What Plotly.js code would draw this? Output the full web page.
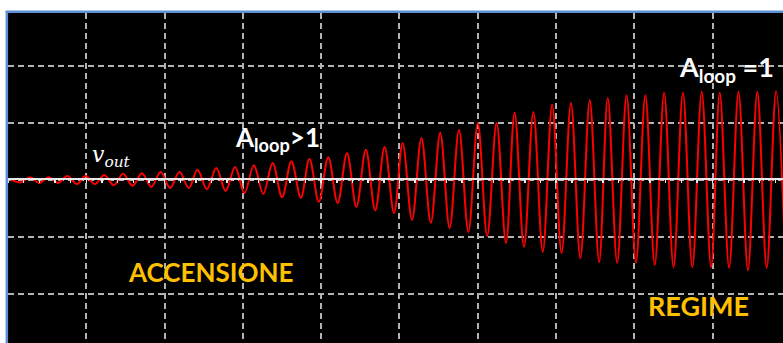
<!DOCTYPE html>
<html>
<head>
<meta charset="utf-8">
<script src="https://cdn.plot.ly/plotly-3.0.1.min.js"></script>
<style>
  html, body { margin: 0; padding: 0; background: #ffffff; }
  #chart { width: 783px; height: 343px; }
</style>
</head>
<body>
<div id="chart"></div>
<script>
// Time of each extremum (in screen divisions) and its value (in vertical divisions)
const startT = [0.02, 0.16];
const startV = [0.01, -0.05];

const peakT = [0.28, 0.52, 0.76, 0.99, 1.23, 1.47, 1.71, 1.95, 2.19, 2.42,
               2.66, 2.90, 3.14, 3.38, 3.62, 3.85, 4.09, 4.33, 4.57, 4.81,
               5.04, 5.28, 5.52, 5.76, 6.00, 6.24, 6.47, 6.71, 6.95, 7.19,
               7.43, 7.66, 7.90, 8.14, 8.38, 8.62, 8.86, 9.09, 9.33, 9.57, 9.81];
const peakV = [0.04, 0.04, 0.06, 0.06, 0.08, 0.10, 0.11, 0.13, 0.13, 0.17,
               0.20, 0.22, 0.25, 0.29, 0.32, 0.36, 0.39, 0.46, 0.52, 0.57,
               0.64, 0.73, 0.82, 0.87, 0.99, 0.99, 1.17, 1.18, 1.31, 1.34,
               1.39, 1.43, 1.48, 1.48, 1.52, 1.52, 1.54, 1.52, 1.54, 1.54, 1.55];

const troughT = [0.40, 0.64, 0.88, 1.11, 1.35, 1.59, 1.83, 2.07, 2.31, 2.54,
                 2.78, 3.02, 3.26, 3.50, 3.74, 3.97, 4.21, 4.45, 4.69, 4.93,
                 5.16, 5.40, 5.64, 5.88, 6.12, 6.36, 6.59, 6.83, 7.07, 7.31,
                 7.55, 7.78, 8.02, 8.26, 8.50, 8.74, 8.98, 9.21, 9.45, 9.69, 9.93];
const troughV = [-0.06, -0.06, -0.08, -0.08, -0.10, -0.11, -0.13, -0.15, -0.15, -0.17,
                 -0.20, -0.24, -0.25, -0.31, -0.32, -0.39, -0.41, -0.48, -0.54, -0.59,
                 -0.71, -0.76, -0.85, -0.92, -0.99, -1.11, -1.18, -1.27, -1.29, -1.38,
                 -1.45, -1.46, -1.46, -1.50, -1.54, -1.54, -1.54, -1.55, -1.59, -1.55, -1.55];

const labels = {
  vout: "<i>v</i><sub><i>out</i></sub>",
  aGt: "A<sub>loop</sub>>1",
  aEq: "A<sub>loop</sub> =1",
  on: "ACCENSIONE",
  steady: "REGIME"
};

// merge extrema in time order
const sigT = [], sigV = [];
startT.forEach((t, i) => { sigT.push(t); sigV.push(startV[i]); });
peakT.forEach((t, i) => {
  sigT.push(t); sigV.push(peakV[i]);
  sigT.push(troughT[i]); sigV.push(troughV[i]);
});

const trace = {
  x: sigT, y: sigV, type: 'scatter', mode: 'lines',
  line: { color: '#ff0000', width: 2, shape: 'spline', smoothing: 1 },
  hoverinfo: 'skip'
};

const gridCol = '#b3b3b3';
const layout = {
  width: 783, height: 343,
  margin: { l: 8, r: 0, t: 13, b: 0, pad: 0 },
  paper_bgcolor: '#ffffff',
  plot_bgcolor: '#000000',
  showlegend: false,
  xaxis: {
    range: [0, 9.898], showgrid: true, gridcolor: gridCol, gridwidth: 2,
    griddash: '6px,4px', tick0: 0, dtick: 1,
    zeroline: false, showticklabels: false,
    anchor: 'free', position: 0.4955,
    showline: true, linecolor: '#e8e8e8', linewidth: 2,
    ticks: 'outside', ticklen: 3, tickwidth: 1.5, tickcolor: '#e8e8e8',
    minor: { dtick: 0.2, tick0: 0, ticks: 'outside', ticklen: 3, tickwidth: 1.5, tickcolor: '#e8e8e8', showgrid: false },
    fixedrange: true
  },
  yaxis: {
    range: [-2.868, 2.921], showgrid: true, gridcolor: gridCol, gridwidth: 2,
    griddash: '6px,4px', tick0: 0, dtick: 1,
    zeroline: false, showticklabels: false, ticks: '', showline: false,
    fixedrange: true
  },
  shapes: [
    { type: 'line', xref: 'paper', yref: 'paper', x0: -0.0015, x1: -0.0015, y0: -0.1, y1: 1.005,
      line: { color: '#5b8fd6', width: 2.5 } },
    { type: 'line', xref: 'paper', yref: 'paper', x0: -0.003, x1: 1.01, y0: 1.004, y1: 1.004,
      line: { color: '#5b8fd6', width: 2.5 } }
  ],
  annotations: [
    { text: labels.vout, x: 1.32, y: 0.4, xref: 'x', yref: 'y', showarrow: false,
      font: { family: 'DejaVu Serif', size: 22, color: '#ffffff' } },
    { text: labels.aGt, x: 3.44, y: 0.72, xref: 'x', yref: 'y', showarrow: false,
      font: { family: 'Lato', size: 26, color: '#ffffff', weight: 'bold' } },
    { text: labels.aEq, x: 9.17, y: 1.94, xref: 'x', yref: 'y', showarrow: false,
      font: { family: 'Lato', size: 27, color: '#ffffff', weight: 'bold' } },
    { text: labels.on, x: 2.59, y: -1.63, xref: 'x', yref: 'y', showarrow: false,
      font: { family: 'Lato', size: 26, color: '#ffc000', weight: 'bold' } },
    { text: labels.steady, x: 8.82, y: -2.21, xref: 'x', yref: 'y', showarrow: false,
      font: { family: 'Lato', size: 27, color: '#ffc000', weight: 'bold' } }
  ]
};

Plotly.newPlot('chart', [trace], layout, { staticPlot: true, displayModeBar: false });
</script>
</body>
</html>
